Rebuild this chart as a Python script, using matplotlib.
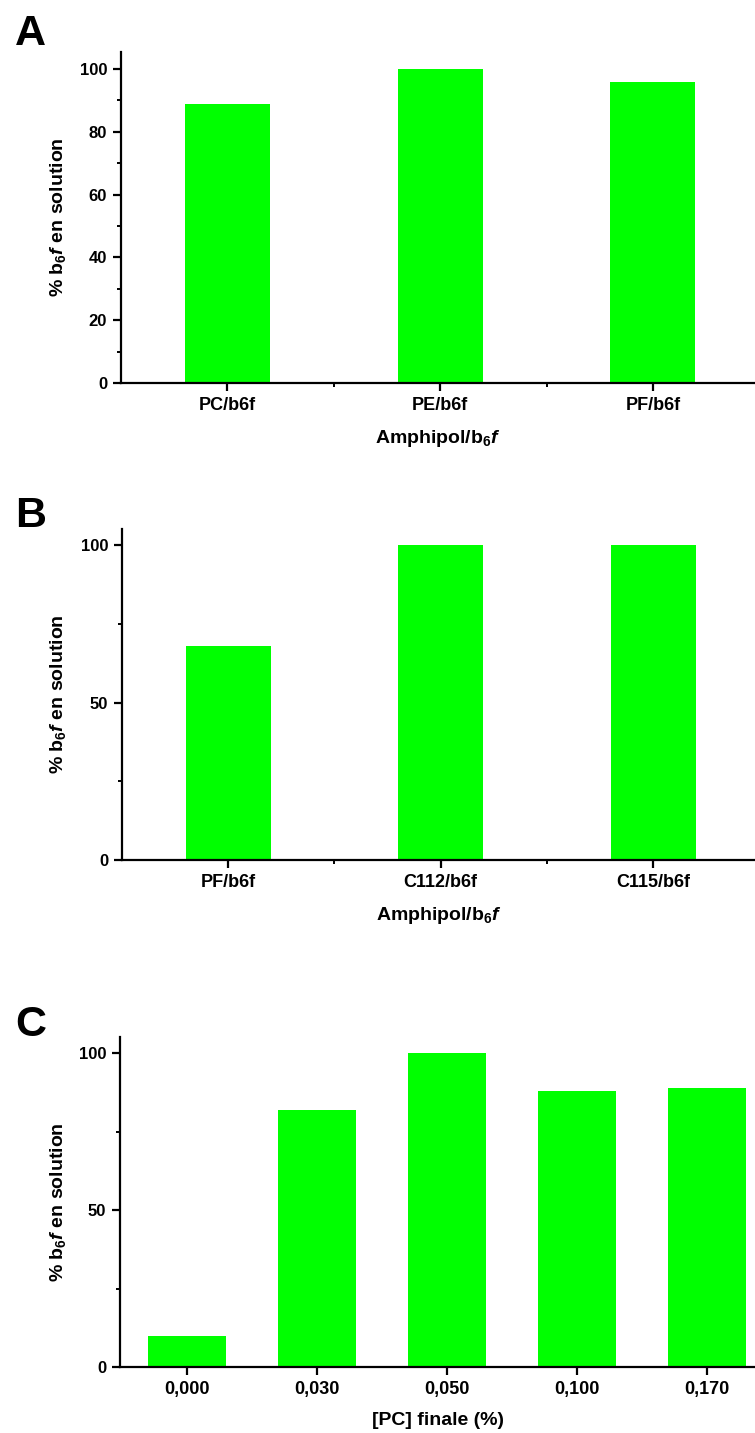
import matplotlib
matplotlib.use("Agg")
import matplotlib.pyplot as plt
from matplotlib.ticker import MultipleLocator, FixedLocator

# données
cat_a = ['PC/b6f', 'PE/b6f', 'PF/b6f']
val_a = [89, 100, 96]

cat_b = ['PF/b6f', 'C112/b6f', 'C115/b6f']
val_b = [68, 100, 100]

cat_c = ['0,000', '0,030', '0,050', '0,100', '0,170']
val_c = [10, 82, 100, 88, 89]

plt.rcParams['font.family'] = ['Liberation Sans', 'DejaVu Sans']
plt.rcParams['font.weight'] = 'bold'
plt.rcParams['mathtext.fontset'] = 'custom'
plt.rcParams['mathtext.rm'] = 'Liberation Sans:bold'
plt.rcParams['mathtext.bf'] = 'Liberation Sans:bold'
plt.rcParams['mathtext.it'] = 'Liberation Sans:italic:bold'

green = '#00ff00'
ylab = r'% b$_{6}$$\mathit{f}$ en solution'
xlab_amph = r'Amphipol/b$_{6}$$\mathit{f}$'

fig = plt.figure(figsize=(7.55, 14.33), dpi=100)
W, H = 755, 1433


def make_axes(left, top, bottom):
    return fig.add_axes([left / W, 1 - bottom / H, 1 - left / W, (bottom - top) / H])


def style(ax, ymajor, yminor, ytop, xlim, xminor=None):
    for s in ['top', 'right']:
        ax.spines[s].set_visible(False)
    for s in ['left', 'bottom']:
        ax.spines[s].set_linewidth(1.6)
    ax.set_ylim(0, ytop)
    ax.set_xlim(*xlim)
    ax.yaxis.set_major_locator(MultipleLocator(ymajor))
    ax.yaxis.set_minor_locator(MultipleLocator(yminor))
    if xminor is not None:
        ax.xaxis.set_minor_locator(FixedLocator(xminor))
    ax.tick_params(axis='both', which='major', direction='out', length=6,
                   width=1.6, pad=4)
    ax.tick_params(axis='y', which='major', labelsize=12)
    ax.tick_params(axis='x', which='major', labelsize=13)
    ax.tick_params(axis='both', which='minor', direction='out', length=3,
                   width=1.4)
    for lbl in ax.get_xticklabels() + ax.get_yticklabels():
        lbl.set_fontweight('bold')
    ax.set_ylabel(ylab, fontsize=14, fontweight='bold')


# Panneau A
axA = make_axes(121, 52, 383)
axA.bar(range(len(cat_a)), val_a, width=0.4, color=green, edgecolor='none')
axA.set_xticks(range(len(cat_a)))
axA.set_xticklabels(cat_a)
style(axA, 20, 10, 105.4, (-0.5, 2.48), xminor=[0.5, 1.5])
axA.set_xlabel(xlab_amph, fontsize=14, fontweight='bold', labelpad=10)

# Panneau B
axB = make_axes(122, 529, 860)
axB.bar(range(len(cat_b)), val_b, width=0.4, color=green, edgecolor='none')
axB.set_xticks(range(len(cat_b)))
axB.set_xticklabels(cat_b)
style(axB, 50, 25, 105.2, (-0.5, 2.48), xminor=[0.5, 1.5])
axB.set_xlabel(xlab_amph, fontsize=14, fontweight='bold', labelpad=10)

# Panneau C
axC = make_axes(120, 1037, 1367)
axC.bar(range(len(cat_c)), val_c, width=0.6, color=green, edgecolor='none')
axC.set_xticks(range(len(cat_c)))
axC.set_xticklabels(cat_c)
style(axC, 50, 25, 105.1, (-0.515, 4.37))
axC.set_xlabel('[PC] finale (%)', fontsize=14, fontweight='bold', labelpad=10)

# position des titres y (coordonnées figure)
for ax in (axA, axB, axC):
    pos = ax.get_position()
    ax.yaxis.set_label_coords(68 / W, pos.y0 + pos.height / 2, transform=fig.transFigure)

# lettres des panneaux
for letter, base in [('A', 45), ('B', 527), ('C', 1036)]:
    fig.text(15 / W, 1 - base / H, letter, fontsize=31, fontweight='bold',
             va='baseline', ha='left')

fig.savefig('out.png', dpi=100)
